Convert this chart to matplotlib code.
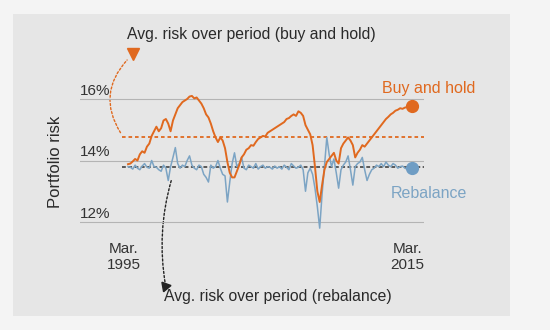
import matplotlib
matplotlib.use("Agg")
import matplotlib.pyplot as plt
from matplotlib.patches import Rectangle, FancyArrowPatch
import numpy as np

plt.rcParams['font.family'] = ['Liberation Sans', 'DejaVu Sans']

# bimonthly observations, Mar 1995 .. Mar 2015
start_year = 1995.25
buy_and_hold = [13.88, 13.90, 13.97, 14.05, 14.00, 14.20, 14.30, 14.25, 14.45, 14.55,
                14.80, 14.95, 15.10, 14.95, 15.05, 15.30, 15.35, 15.20, 14.95, 15.30,
                15.50, 15.70, 15.80, 15.90, 15.95, 16.00, 16.08, 16.10, 16.02, 16.05,
                15.95, 15.85, 15.70, 15.50, 15.40, 15.20, 14.95, 14.75, 14.60, 14.75,
                14.65, 14.40, 13.95, 13.60, 13.45, 13.45, 13.65, 13.85, 14.10, 14.20,
                14.35, 14.40, 14.50, 14.48, 14.60, 14.70, 14.75, 14.80, 14.78, 14.90,
                14.95, 15.00, 15.05, 15.10, 15.15, 15.20, 15.25, 15.35, 15.38, 15.45,
                15.50, 15.45, 15.60, 15.55, 15.45, 15.15, 15.00, 14.85, 14.50, 13.80,
                13.00, 12.65, 13.20, 13.70, 13.95, 14.05, 14.15, 14.25, 14.00, 13.90,
                14.40, 14.55, 14.65, 14.75, 14.65, 14.50, 14.10, 14.25, 14.35, 14.50,
                14.45, 14.55, 14.65, 14.75, 14.85, 14.95, 15.05, 15.15, 15.25, 15.35,
                15.42, 15.50, 15.55, 15.62, 15.65, 15.70, 15.68, 15.72, 15.74, 15.75,
                15.78]
rebalance = [13.80, 13.78, 13.72, 13.85, 13.75, 13.70, 13.82, 13.90, 13.78, 13.75,
             14.00, 13.80, 13.78, 13.70, 13.65, 13.85, 13.75, 13.35, 13.80, 14.10,
             14.42, 13.90, 13.75, 13.85, 13.80, 14.00, 14.15, 13.85, 13.75, 13.70,
             13.85, 13.80, 13.55, 13.45, 13.30, 13.85, 13.75, 13.80, 14.00, 13.75,
             13.55, 13.50, 12.65, 13.30, 13.90, 14.25, 13.80, 13.90, 14.10, 13.75,
             13.70, 13.85, 13.80, 13.75, 13.90, 13.72, 13.80, 13.85, 13.75, 13.80,
             13.78, 13.72, 13.82, 13.75, 13.80, 13.72, 13.85, 13.78, 13.70, 13.90,
             13.82, 13.75, 13.78, 13.85, 13.70, 13.00, 13.60, 13.75, 13.55, 13.10,
             12.50, 11.80, 12.90, 13.80, 14.75, 14.20, 13.80, 14.05, 13.60, 13.10,
             13.70, 13.85, 13.95, 14.15, 13.70, 13.20, 13.80, 13.90, 13.95, 14.10,
             13.70, 13.35, 13.55, 13.70, 13.75, 13.85, 13.80, 13.90, 13.80, 13.95,
             13.85, 13.80, 13.90, 13.85, 13.75, 13.80, 13.82, 13.75, 13.72, 13.70,
             13.74]
avg_buy_and_hold = 14.77
avg_rebalance = 13.78
y_ticks = [12, 14, 16]
y_tick_labels = ["12%", "14%", "16%"]
x_labels = ["Mar.\n1995", "Mar.\n2015"]

dates = start_year + np.arange(len(buy_and_hold)) / 6.0

ORANGE = "#E0691F"
BLUE = "#7CA4C4"
GRID = "#b4b4b4"
TXT = "#2a2a2a"

W, H = 550, 330
fig = plt.figure(figsize=(W / 100, H / 100), dpi=100)
fig.patch.set_facecolor("#f4f4f4")

ov = fig.add_axes([0, 0, 1, 1])
ov.set_xlim(0, W)
ov.set_ylim(H, 0)
ov.axis("off")
ov.add_patch(Rectangle((13, 14), 497, 302, facecolor="#e6e6e6", edgecolor="none", zorder=0))

px_per_year = 284 / 20.0
xl = start_year - 48 / px_per_year
xr = start_year + 20 + 12 / px_per_year
px_per_pct = (222 - 99) / 4.0
ylo, yhi = 11.5, 16.5
top_px = 99 - (yhi - 16) * px_per_pct
bot_px = 222 + (12 - ylo) * px_per_pct
ax = fig.add_axes([80 / W, 1 - bot_px / H, 344 / W, (bot_px - top_px) / H])
ax.set_xlim(xl, xr)
ax.set_ylim(ylo, yhi)
ax.axis("off")
ax.patch.set_alpha(0)

for t, lab in zip(y_ticks, y_tick_labels):
    ax.axhline(t, color=GRID, lw=0.8, zorder=1)
    ax.annotate(lab, (xl, t), xytext=(0, 1), textcoords="offset points",
                ha="left", va="bottom", fontsize=11, color="#333333")

ax.plot([start_year - 0.4, xr], [avg_buy_and_hold] * 2, color=ORANGE, lw=1.3,
        ls=(0, (2, 1.6)), zorder=2)
ax.plot([start_year - 0.4, xr], [avg_rebalance] * 2, color="#333333", lw=1.1,
        ls=(0, (2.5, 1.6)), zorder=2)

ax.plot(dates, rebalance, color=BLUE, lw=1.1, zorder=3)
ax.plot(dates, buy_and_hold, color=ORANGE, lw=1.4, zorder=4)
ax.plot(dates[-1], buy_and_hold[-1], "o", color=ORANGE, ms=8.5, zorder=5)
ax.plot(dates[-1], rebalance[-1], "o", color="#6f9dc4", ms=8.5, zorder=5)

ax.text(dates[0] - 0.3, 11.35, x_labels[0], ha="center", va="top", fontsize=11,
        color="#333333", linespacing=1.2)
ax.text(dates[-1] - 0.3, 11.35, x_labels[1], ha="center", va="top", fontsize=11,
        color="#333333", linespacing=1.2)

ov.text(429, 88, "Buy and hold", color=ORANGE, fontsize=11.5, ha="center", va="center")
ov.text(429, 193, "Rebalance", color=BLUE, fontsize=11.5, ha="center", va="center")
ov.text(55, 162, "Portfolio risk", rotation=90, fontsize=12, ha="center", va="center",
        color=TXT)
ov.text(251, 35, "Avg. risk over period (buy and hold)", fontsize=11.3, ha="center",
        va="center", color=TXT)
ov.text(278, 296, "Avg. risk over period (rebalance)", fontsize=11.3, ha="center",
        va="center", color=TXT)

a1 = FancyArrowPatch((122, 135), (129, 58), connectionstyle="arc3,rad=-0.4",
                     arrowstyle="-", color=ORANGE, lw=1.0, ls=(0, (1.5, 1.5)))
ov.add_patch(a1)
ov.plot([133], [54], marker="v", color=ORANGE, ms=8)
a2 = FancyArrowPatch((172, 178), (166, 288), connectionstyle="arc3,rad=0.12",
                     arrowstyle="-", color="#222222", lw=1.0, ls=(0, (1.5, 1.5)))
ov.add_patch(a2)
ov.plot([165], [286], marker=(3, 0, 160), color="#222222", ms=8)

fig.savefig("out.png", dpi=100, facecolor=fig.get_facecolor())
